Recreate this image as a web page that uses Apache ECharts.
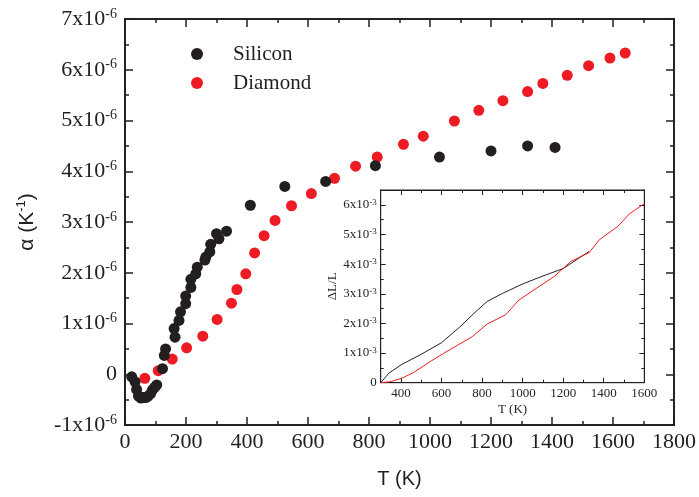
<!DOCTYPE html>
<html><head><meta charset="utf-8">
<script src="https://cdn.jsdelivr.net/npm/echarts@6/dist/echarts.min.js"></script>
<style>html,body{margin:0;padding:0;background:#fff}#c{width:699px;height:497px}</style>
</head><body><div id="c"></div>
<script>
// ---- Main chart data: thermal expansion coefficient alpha (units of 1e-6 K^-1) ----
const siliconT     = [22, 33, 38, 44, 52, 60, 68, 76, 84, 90, 97, 104, 123, 129, 133, 161, 164, 177, 182, 199, 199, 216, 216, 232, 237, 262, 265, 278, 281, 300, 308, 333, 411, 524, 658, 821, 1031, 1200, 1320, 1410];
const siliconAlpha = [-0.05, -0.15, -0.3, -0.43, -0.47, -0.46, -0.46, -0.43, -0.38, -0.31, -0.26, -0.21, 0.11, 0.37, 0.5, 0.9, 0.73, 1.06, 1.23, 1.39, 1.54, 1.71, 1.87, 1.98, 2.11, 2.25, 2.31, 2.41, 2.56, 2.77, 2.67, 2.82, 3.33, 3.70, 3.80, 4.11, 4.28, 4.40, 4.50, 4.47];
const diamondT     = [65, 109, 155, 202, 255, 302, 349, 367, 396, 425, 456, 492, 546, 611, 687, 756, 827, 913, 978, 1080, 1160, 1239, 1320, 1370, 1450, 1520, 1590, 1640];
const diamondAlpha = [-0.08, 0.07, 0.30, 0.52, 0.75, 1.08, 1.40, 1.67, 1.98, 2.39, 2.73, 3.03, 3.32, 3.56, 3.86, 4.10, 4.28, 4.53, 4.69, 4.99, 5.20, 5.39, 5.57, 5.73, 5.89, 6.08, 6.23, 6.33];
const ALPHA_UNIT = 1e-6;

// ---- Inset data: dL/L (units of 1e-3) ----
const insetSiT  = [300, 340, 400, 500, 600, 690, 760, 825, 900, 1000, 1100, 1200, 1328];
const insetSiDL = [0, 0.32, 0.60, 0.96, 1.35, 1.88, 2.34, 2.74, 3.01, 3.33, 3.60, 3.85, 4.43];
const insetDiT  = [300, 346, 404, 461, 544, 610, 680, 751, 825, 916, 982, 1056, 1155, 1238, 1328, 1378, 1469, 1526, 1600];
const insetDiDL = [0, 0.03, 0.15, 0.34, 0.71, 0.99, 1.27, 1.55, 1.98, 2.29, 2.79, 3.13, 3.58, 4.09, 4.39, 4.82, 5.27, 5.69, 6.04];
const DL_UNIT = 1e-3;

// ---- Tick values ----
const insetXMajor = [400, 600, 800, 1000, 1200, 1400, 1600];
const insetYMajor = [0, 1, 2, 3, 4, 5, 6].map(v => v * DL_UNIT);

const SERIF = '"Liberation Serif", "Times New Roman", serif';
const SANS = '"Liberation Sans", Arial, sans-serif';
const INK = '#231f20';
const RED = '#ed1c24';

function mainYFmt(v) {
  const n = Math.round(v / ALPHA_UNIT);
  return n === 0 ? '{a|0}' : '{a|' + n + 'x10}{s|-6}';
}
function insetYFmt(v) {
  const x = Math.round(v / DL_UNIT * 10) / 10;
  if (Math.abs(x - Math.round(x)) > 1e-6) return '';
  const n = Math.round(x);
  return n === 0 ? '{a|0}' : '{a|' + n + 'x10}{s|-3}';
}
const mainRich = {
  a: { fontFamily: SERIF, fontSize: 22, color: INK, lineHeight: 24 },
  s: { fontFamily: SERIF, fontSize: 14, color: INK, lineHeight: 14, verticalAlign: 'top' }
};
const insetRich = {
  a: { fontFamily: SERIF, fontSize: 13, color: INK, lineHeight: 14 },
  s: { fontFamily: SERIF, fontSize: 9, color: INK, lineHeight: 9, verticalAlign: 'top' }
};

// range; 'minor' axes use half the major step
function range(o, kind, inset, minor) {
  if (!inset) {
    if (kind === 'x') { o.min = 0; o.max = 1800; o.interval = minor ? 100 : 200; }
    else { o.min = -1 * ALPHA_UNIT; o.max = 7 * ALPHA_UNIT; o.interval = (minor ? 0.5 : 1) * ALPHA_UNIT; }
  } else {
    if (kind === 'x') { o.min = 300; o.max = 1600; o.interval = 100; }
    else { o.min = 0; o.max = 6.5 * DL_UNIT; o.interval = 0.5 * DL_UNIT; }
  }
  return o;
}

// axis carrying only labels and name (no line, no ticks)
function labelAxis(kind, pos, inset, label, name) {
  return range(Object.assign({
    type: 'value', gridIndex: inset ? 1 : 0, position: pos,
    axisLine: { show: false, onZero: false },
    axisTick: { show: false }, minorTick: { show: false },
    splitLine: { show: false }, minorSplitLine: { show: false },
    axisLabel: label
  }, name), kind, inset, false);
}
// axis carrying only line and inward ticks (no minorTick feature used)
function tickAxis(kind, pos, inset, variant) {
  const w = inset ? 1 : 1.5;
  const major = variant === 'major';
  const o = {
    type: 'value', gridIndex: inset ? 1 : 0, position: pos,
    axisLine: { show: true, onZero: false, lineStyle: { color: INK, width: w } },
    axisTick: { show: true, inside: true, lineStyle: { color: INK, width: w },
      length: inset ? (major ? 5 : 3) : (major ? 8 : 4) },
    minorTick: { show: false },
    splitLine: { show: false }, minorSplitLine: { show: false },
    axisLabel: { show: false }
  };
  if (inset && major) o.axisTick.customValues = kind === 'x' ? insetXMajor : insetYMajor;
  return range(o, kind, inset, !major);
}
function tickSet(kind, inset) {
  const p = kind === 'x' ? ['bottom', 'top'] : ['left', 'right'];
  return [tickAxis(kind, p[0], inset, 'minor'), tickAxis(kind, p[0], inset, 'major'),
          tickAxis(kind, p[1], inset, 'minor'), tickAxis(kind, p[1], inset, 'major')];
}

const xMainLabels = labelAxis('x', 'bottom', false,
  { show: true, fontFamily: SERIF, fontSize: 22, color: INK, margin: 6, formatter: v => String(v) },
  { name: 'T (K)', nameLocation: 'middle', nameGap: 44, nameTextStyle: { fontFamily: SANS, fontSize: 20, color: INK } });
const yMainLabels = labelAxis('y', 'left', false,
  { show: true, formatter: mainYFmt, rich: mainRich, margin: 8 },
  { name: '{t|α (K}{s|-1}{t|)}', nameLocation: 'middle', nameGap: 86, nameRotate: 90,
    nameTextStyle: { rich: {
      t: { fontFamily: SANS, fontSize: 21, color: INK, lineHeight: 24 },
      s: { fontFamily: SANS, fontSize: 13, color: INK, lineHeight: 13, verticalAlign: 'top' } } } });
const xInLabels = labelAxis('x', 'bottom', true,
  { show: true, fontFamily: SERIF, fontSize: 13, color: INK, margin: 4, formatter: v => (v % 200 === 0 ? String(v) : '') },
  { name: 'T (K)', nameLocation: 'middle', nameGap: 20, nameTextStyle: { fontFamily: SERIF, fontSize: 13, color: INK } });
const yInLabels = labelAxis('y', 'left', true,
  { show: true, formatter: insetYFmt, rich: insetRich, margin: 4 },
  { name: 'ΔL/L', nameLocation: 'middle', nameGap: 36, nameRotate: 90, nameTextStyle: { fontFamily: SERIF, fontSize: 13, color: INK } });

const option = {
  animation: false,
  backgroundColor: '#fff',
  grid: [
    { left: 125, top: 19, width: 550, height: 406, show: true, borderColor: INK, borderWidth: 1.5, backgroundColor: 'transparent' },
    { left: 380.7, top: 190, width: 263.6, height: 192.7, show: true, borderColor: INK, borderWidth: 1, backgroundColor: 'transparent' }
  ],
  legend: {
    data: ['Silicon', 'Diamond'], orient: 'vertical', left: 186, top: 37,
    icon: 'circle', symbolKeepAspect: true, itemWidth: 62, itemHeight: 12, itemGap: 5,
    textStyle: { fontFamily: SERIF, fontSize: 21, color: INK, lineHeight: 24 }
  },
  // xAxis: 0 main labels, 1-4 main ticks, 5 inset labels, 6-9 inset ticks
  xAxis: [xMainLabels].concat(tickSet('x', false), [xInLabels], tickSet('x', true)),
  yAxis: [yMainLabels].concat(tickSet('y', false), [yInLabels], tickSet('y', true)),
  series: [
    { name: 'Diamond', type: 'scatter', xAxisIndex: 0, yAxisIndex: 0, symbolSize: 11, z: 2,
      itemStyle: { color: RED, opacity: 1 },
      data: diamondT.map((t, i) => [t, diamondAlpha[i] * ALPHA_UNIT]) },
    { name: 'Silicon', type: 'scatter', xAxisIndex: 0, yAxisIndex: 0, symbolSize: 11, z: 3,
      itemStyle: { color: INK, opacity: 1 },
      data: siliconT.map((t, i) => [t, siliconAlpha[i] * ALPHA_UNIT]) },
    { name: 'Silicon ΔL/L', type: 'line', xAxisIndex: 5, yAxisIndex: 5, showSymbol: false, symbol: 'none', z: 5,
      lineStyle: { color: INK, width: 1 }, itemStyle: { color: INK },
      data: insetSiT.map((t, i) => [t, insetSiDL[i] * DL_UNIT]) },
    { name: 'Diamond ΔL/L', type: 'line', xAxisIndex: 5, yAxisIndex: 5, showSymbol: false, symbol: 'none', z: 5,
      lineStyle: { color: RED, width: 1 }, itemStyle: { color: RED },
      data: insetDiT.map((t, i) => [t, insetDiDL[i] * DL_UNIT]) }
  ]
};
const chart = echarts.init(document.getElementById('c'), null, { renderer: 'canvas' });
chart.setOption(option);
</script></body></html>
